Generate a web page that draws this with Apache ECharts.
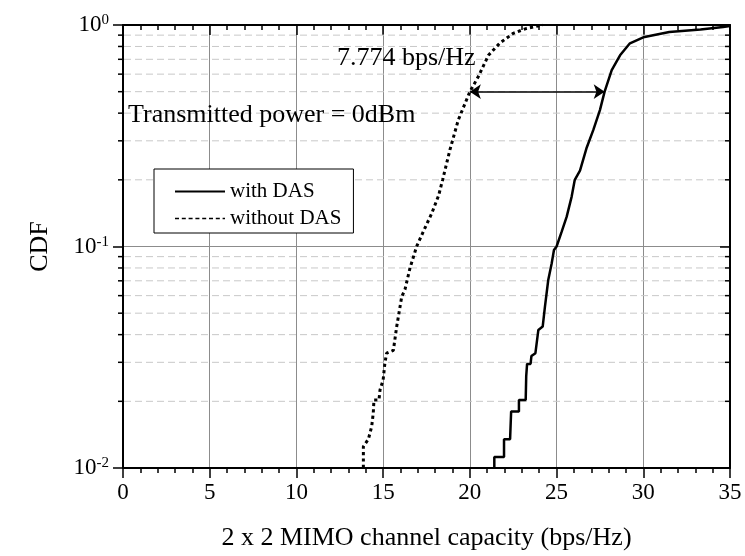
<!DOCTYPE html>
<html>
<head>
<meta charset="utf-8">
<script src="https://cdn.jsdelivr.net/npm/echarts@6/dist/echarts.min.js"></script>
<style>html,body{margin:0;padding:0;background:#fff}#c{width:745px;height:556px}</style>
</head>
<body>
<div id="c"></div>
<script>
// ---- data ----
const withDAS_x = [21.41,21.41,21.97,21.97,22.32,22.38,22.83,22.83,23.22,23.25,23.30,23.50,23.55,23.78,23.95,24.20,24.33,24.52,24.72,24.85,25.00,25.30,25.58,25.87,26.05,26.35,26.74,27.12,27.50,27.77,28.18,28.66,29.23,30.00,31.50,33.30,34.60,35.00];
const withDAS_y = [0.0100,0.0112,0.0112,0.0135,0.0135,0.0180,0.0180,0.0203,0.0203,0.0260,0.0295,0.0295,0.0320,0.0330,0.0420,0.0435,0.0535,0.0706,0.0840,0.0965,0.100,0.117,0.136,0.168,0.200,0.220,0.280,0.336,0.413,0.500,0.626,0.730,0.827,0.880,0.930,0.955,0.980,0.990];
const withoutDAS_x = [13.86,13.86,14.15,14.34,14.43,14.47,14.76,14.82,15.00,15.10,15.20,15.59,15.78,16.07,16.26,16.55,16.93,17.32,17.80,18.20,18.43,18.85,19.33,20.00,20.49,21.07,21.74,22.50,23.28,24.20];
const withoutDAS_y = [0.0100,0.0125,0.0135,0.0154,0.0177,0.0203,0.0203,0.0225,0.0250,0.0297,0.0330,0.0340,0.0434,0.0593,0.0640,0.0800,0.100,0.117,0.141,0.170,0.200,0.273,0.372,0.500,0.585,0.730,0.830,0.917,0.966,1.000];
const seriesNames = ['with DAS', 'without DAS'];
const xTicks = [0, 5, 10, 15, 20, 25, 30, 35];
const yMinorValues = [0.02,0.03,0.04,0.05,0.06,0.07,0.08,0.09,0.2,0.3,0.4,0.5,0.6,0.7,0.8,0.9];
const arrowX = [20.0, 27.774];
const arrowY = 0.5;
const annotations = ['7.774 bps/Hz', 'Transmitted power = 0dBm'];
const xTitle = '2 x 2 MIMO channel capacity (bps/Hz)';
const yTitle = 'CDF';

const FONT = 'Liberation Serif';
const zip = (a, b) => a.map((v, i) => [v, b[i]]);

const chart = echarts.init(document.getElementById('c'), null, {renderer: 'canvas'});
const axisLineStyle = {color: '#000', width: 2};
const hiddenSymbol = {color: 'rgba(0,0,0,0)', opacity: 0, borderWidth: 0};
const option = {
  animation: false,
  backgroundColor: '#fff',
  grid: {left: 123, right: 15, top: 25, bottom: 88, containLabel: false},
  legend: {
    orient: 'vertical', left: 154, top: 169,
    backgroundColor: '#fff', borderColor: '#000', borderWidth: 1, borderRadius: 0,
    padding: [12, 12, 4, 20], itemGap: 6, itemWidth: 50, itemHeight: 14,
    textStyle: {fontFamily: FONT, fontSize: 21, color: '#000', lineHeight: 21},
    data: [
      {name: seriesNames[0], itemStyle: hiddenSymbol, lineStyle: {color: '#000', width: 2, type: 'solid'}},
      {name: seriesNames[1], itemStyle: hiddenSymbol, lineStyle: {color: '#000', width: 1.6, type: [4, 2.8]}}
    ]
  },
  xAxis: [{
    type: 'value', min: 0, max: 35, interval: 5, position: 'bottom',
    axisLine: {show: true, onZero: false, lineStyle: axisLineStyle},
    axisTick: {show: true, inside: false, length: 10, lineStyle: {color: '#000', width: 1.5}},
    minorTick: {show: true, splitNumber: 5, length: 5, lineStyle: {color: '#000', width: 1.5}},
    axisLabel: {fontFamily: FONT, fontSize: 23, color: '#000', margin: 13,
      formatter: v => xTicks.includes(v) ? String(v) : ''},
    splitLine: {show: true, lineStyle: {color: '#8c8c8c', width: 1}},
    name: xTitle, nameLocation: 'middle', nameGap: 57,
    nameTextStyle: {fontFamily: FONT, fontSize: 26, color: '#000'}
  }, {
    type: 'value', min: 0, max: 35, interval: 5, position: 'top',
    axisLine: {show: true, onZero: false, lineStyle: axisLineStyle},
    axisTick: {show: true, inside: true, length: 10, lineStyle: {color: '#000', width: 1.5}},
    minorTick: {show: true, splitNumber: 5, length: 5, lineStyle: {color: '#000', width: 1.5}},
    axisLabel: {show: false}, splitLine: {show: false}
  }],
  yAxis: [{
    type: 'log', logBase: 10, min: 0.01, max: 1, position: 'left',
    axisLine: {show: true, onZero: false, lineStyle: axisLineStyle},
    axisTick: {show: true, inside: false, length: 10, lineStyle: {color: '#000', width: 1.5}},
    axisLabel: {
      margin: 14, color: '#000',
      formatter: v => '{b|10}{s|' + Math.round(Math.log10(v)) + '}',
      rich: {
        b: {fontFamily: FONT, fontSize: 23, color: '#000', lineHeight: 24},
        s: {fontFamily: FONT, fontSize: 15, color: '#000', verticalAlign: 'top', lineHeight: 24, padding: [0, 0, 10, 0]}
      }
    },
    splitLine: {show: true, lineStyle: {color: '#8c8c8c', width: 1}},
    name: yTitle, nameLocation: 'middle', nameGap: 70, nameRotate: 90,
    nameTextStyle: {fontFamily: FONT, fontSize: 26, color: '#000'}
  }, {
    type: 'log', logBase: 10, min: 0.01, max: 1, position: 'right',
    axisLine: {show: true, onZero: false, lineStyle: axisLineStyle},
    axisTick: {show: true, inside: true, length: 10, lineStyle: {color: '#000', width: 1.5}},
    axisLabel: {show: false}, splitLine: {show: false}
  }],
  graphic: [
    {type: 'text', left: 337, top: 45, z: 10,
      style: {text: annotations[0], fontFamily: FONT, fontSize: 26, fill: '#000'}},
    {type: 'text', left: 128, top: 102, z: 10,
      style: {text: annotations[1], fontFamily: FONT, fontSize: 26, fill: '#000'}}
  ],
  series: [
    {
      type: 'custom', name: 'minor', xAxisIndex: 0, yAxisIndex: 0, z: 1, silent: true, clip: false,
      data: yMinorValues.map(v => [0, v]),
      renderItem: (params, api) => {
        const v = api.value(1);
        const p0 = api.coord([0, v]);
        const p1 = api.coord([35, v]);
        return {type: 'group', children: [
          {type: 'line', shape: {x1: p0[0] + 1, y1: p0[1], x2: p1[0] - 1, y2: p1[1]},
            style: {stroke: '#c8c8c8', lineWidth: 1, lineDash: [7, 4]}},
          {type: 'line', shape: {x1: p0[0] - 5, y1: p0[1], x2: p0[0], y2: p0[1]},
            style: {stroke: '#000', lineWidth: 1.5}},
          {type: 'line', shape: {x1: p1[0] - 5, y1: p1[1], x2: p1[0], y2: p1[1]},
            style: {stroke: '#000', lineWidth: 1.5}}
        ]};
      }
    },
    {
      type: 'line', name: seriesNames[0], data: zip(withDAS_x, withDAS_y),
      showSymbol: false, symbol: 'none', z: 5,
      lineStyle: {color: '#000', width: 2.5, type: 'solid'}, itemStyle: {color: '#000'},
      markLine: {
        silent: true, symbol: ['arrow', 'arrow'], symbolSize: [11, 11],
        label: {show: false},
        lineStyle: {color: '#000', width: 1.5, type: 'solid'},
        data: [[{coord: [arrowX[0], arrowY]}, {coord: [arrowX[1], arrowY]}]]
      }
    },
    {
      type: 'line', name: seriesNames[1], data: zip(withoutDAS_x, withoutDAS_y),
      showSymbol: false, symbol: 'none', z: 5,
      lineStyle: {color: '#000', width: 3, type: [3.2, 3.2], cap: 'butt'}, itemStyle: {color: '#000'}
    }
  ]
};
chart.setOption(option);
</script>
</body>
</html>
